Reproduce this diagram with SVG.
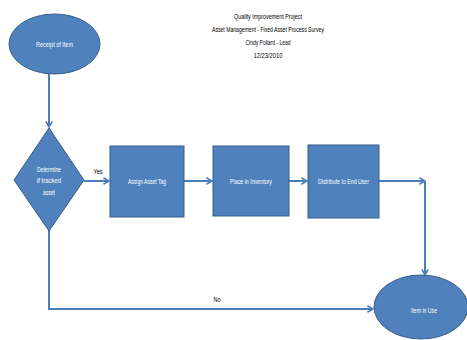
<svg xmlns="http://www.w3.org/2000/svg" width="467" height="340" viewBox="0 0 467 340">
<style>
.shape{fill:#4F81BD;stroke:#385D8A;stroke-width:1}
.lbl{font-family:"Liberation Sans",Arial,sans-serif;font-size:7px;fill:#fff;text-anchor:middle}
.ttl{font-family:"Liberation Sans",Arial,sans-serif;font-size:7px;fill:#000;text-anchor:middle}
.con{fill:none;stroke:#4A7EBB;stroke-width:2}
</style>
<defs>
<marker id="arr" viewBox="0 0 10 10" refX="9" refY="5" markerWidth="4" markerHeight="4" orient="auto" markerUnits="strokeWidth">
<polyline points="2,1 9,5 2,9" fill="none" stroke="#4A7EBB" stroke-width="2"/>
</marker>
</defs>
<rect width="467" height="340" fill="#fff"/>
<g id="title">
<text class="ttl" x="268" y="19" textLength="68" lengthAdjust="spacingAndGlyphs">Quality Improvement Project</text>
<text class="ttl" x="268" y="32" textLength="112" lengthAdjust="spacingAndGlyphs">Asset Management - Fixed Asset Process Survey</text>
<text class="ttl" x="268" y="45" textLength="45" lengthAdjust="spacingAndGlyphs">Cindy Pollard - Lead</text>
<text class="ttl" x="268" y="58" textLength="29" lengthAdjust="spacingAndGlyphs">12/23/2010</text>
</g>
<g id="connectors">
<line class="con" x1="49" y1="74" x2="49" y2="127" marker-end="url(#arr)"/>
<line class="con" x1="84" y1="181" x2="109" y2="181" marker-end="url(#arr)"/>
<line class="con" x1="184" y1="181" x2="212" y2="181" marker-end="url(#arr)"/>
<line class="con" x1="289" y1="181" x2="307" y2="181" marker-end="url(#arr)"/>
<line class="con" x1="379" y1="181" x2="425" y2="181" marker-end="url(#arr)"/>
<line class="con" x1="425" y1="182" x2="425" y2="275" marker-end="url(#arr)"/>
<polyline class="con" points="49,230 49,309 373,309" marker-end="url(#arr)"/>
<text class="ttl" x="98" y="174" textLength="9" lengthAdjust="spacingAndGlyphs">Yes</text>
<text class="ttl" x="217" y="302" textLength="7" lengthAdjust="spacingAndGlyphs">No</text>
</g>
<g id="receipt">
<ellipse class="shape" cx="54.5" cy="44" rx="45.5" ry="30"/>
<text class="lbl" x="54.5" y="46.5" textLength="37" lengthAdjust="spacingAndGlyphs">Receipt of Item</text>
</g>
<g id="decision">
<polygon class="shape" points="49,128 84,180 49,231 14,180"/>
<text class="lbl" x="49" y="171.5" textLength="24" lengthAdjust="spacingAndGlyphs">Determine</text>
<text class="lbl" x="49" y="183" textLength="24" lengthAdjust="spacingAndGlyphs">if tracked</text>
<text class="lbl" x="49" y="194.5" textLength="12" lengthAdjust="spacingAndGlyphs">asset</text>
</g>
<g id="assign">
<rect class="shape" x="110" y="146" width="74" height="71"/>
<text class="lbl" x="147" y="184" textLength="38" lengthAdjust="spacingAndGlyphs">Assign Asset Tag</text>
</g>
<g id="place">
<rect class="shape" x="213" y="146" width="76" height="70"/>
<text class="lbl" x="251" y="184" textLength="42" lengthAdjust="spacingAndGlyphs">Place in Inventory</text>
</g>
<g id="distribute">
<rect class="shape" x="308" y="145" width="71" height="73"/>
<text class="lbl" x="343.5" y="184" textLength="51" lengthAdjust="spacingAndGlyphs">Distribute to End User</text>
</g>
<g id="inuse">
<ellipse class="shape" cx="421" cy="307" rx="47" ry="32"/>
<text class="lbl" x="424" y="313" textLength="26" lengthAdjust="spacingAndGlyphs">Item in Use</text>
</g>
</svg>
